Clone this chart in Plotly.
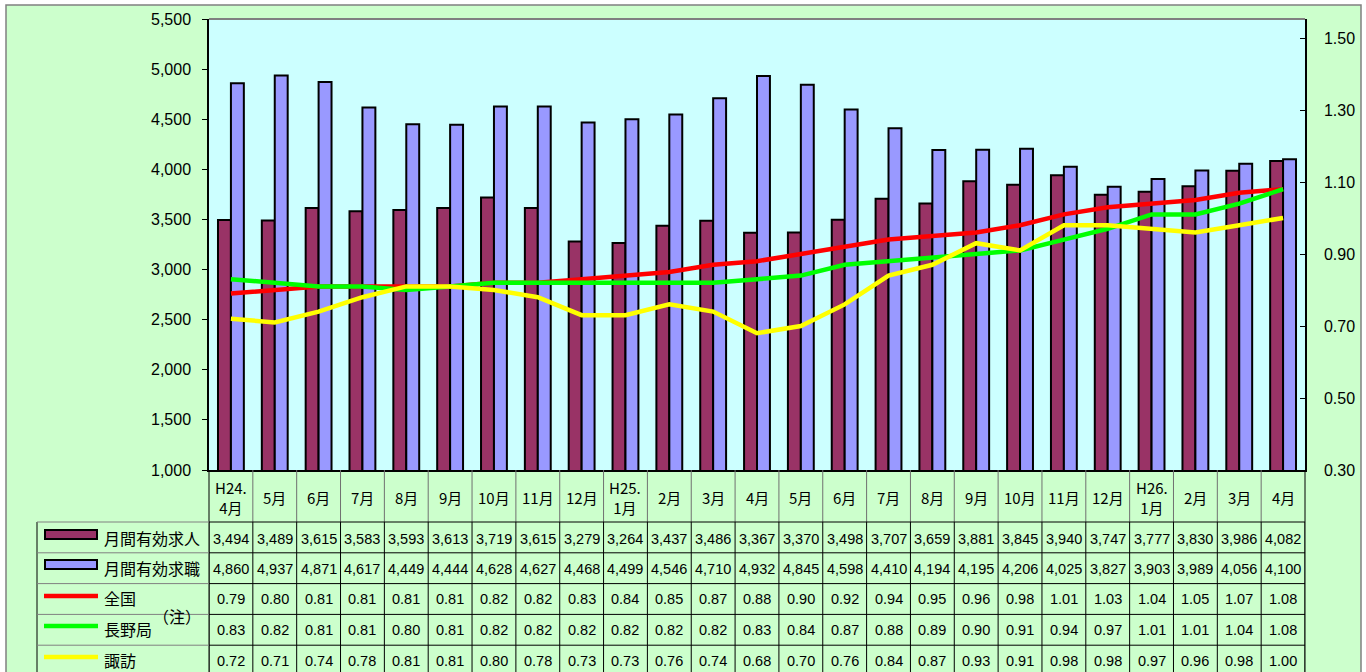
import plotly.graph_objects as go

categories = ["H24.<br>4月", "5月", "6月", "7月", "8月", "9月", "10月", "11月", "12月",
              "H25.<br>1月", "2月", "3月", "4月", "5月", "6月", "7月", "8月", "9月", "10月",
              "11月", "12月", "H26.<br>1月", "2月", "3月", "4月"]
kyujin = [3494, 3489, 3615, 3583, 3593, 3613, 3719, 3615, 3279, 3264, 3437, 3486, 3367,
          3370, 3498, 3707, 3659, 3881, 3845, 3940, 3747, 3777, 3830, 3986, 4082]
kyushoku = [4860, 4937, 4871, 4617, 4449, 4444, 4628, 4627, 4468, 4499, 4546, 4710, 4932,
            4845, 4598, 4410, 4194, 4195, 4206, 4025, 3827, 3903, 3989, 4056, 4100]
zenkoku = [0.79, 0.80, 0.81, 0.81, 0.81, 0.81, 0.82, 0.82, 0.83, 0.84, 0.85, 0.87, 0.88,
           0.90, 0.92, 0.94, 0.95, 0.96, 0.98, 1.01, 1.03, 1.04, 1.05, 1.07, 1.08]
nagano = [0.83, 0.82, 0.81, 0.81, 0.80, 0.81, 0.82, 0.82, 0.82, 0.82, 0.82, 0.82, 0.83,
          0.84, 0.87, 0.88, 0.89, 0.90, 0.91, 0.94, 0.97, 1.01, 1.01, 1.04, 1.08]
suwa = [0.72, 0.71, 0.74, 0.78, 0.81, 0.81, 0.80, 0.78, 0.73, 0.73, 0.76, 0.74, 0.68,
        0.70, 0.76, 0.84, 0.87, 0.93, 0.91, 0.98, 0.98, 0.97, 0.96, 0.98, 1.00]

series_names = ["月間有効求人", "月間有効求職", "全国", "長野局", "諏訪"]
left_ticks = [1000, 1500, 2000, 2500, 3000, 3500, 4000, 4500, 5000, 5500]
right_ticks = [0.30, 0.50, 0.70, 0.90, 1.10, 1.30, 1.50]

MAROON = "#993366"
LAVENDER = "#9999FF"
RED = "#FF0000"
GREEN = "#00FF00"
YELLOW = "#FFFF00"
CHART_BG = "#CCFFCC"
PLOT_BG = "#CCFFFF"

W, H = 1366, 672
L, R, T, B = 209, 1305, 19, 470
PW, PH = R - L, B - T


def px(x):
    return (x - L) / PW


def py(y):
    return (B - y) / PH


JP = "Noto Sans CJK JP, sans-serif"
NUM = "Arial, Liberation Sans, sans-serif"

n = len(categories)
xs = list(range(n))

fig = go.Figure()
fig.add_trace(go.Bar(x=xs, y=kyujin, name=series_names[0], marker=dict(color=MAROON, line=dict(color="black", width=2))))
fig.add_trace(go.Bar(x=xs, y=kyushoku, name=series_names[1], marker=dict(color=LAVENDER, line=dict(color="black", width=2))))
for vals, col, nm in [(zenkoku, RED, series_names[2]), (nagano, GREEN, series_names[3]), (suwa, YELLOW, series_names[4])]:
    fig.add_trace(go.Scatter(x=xs, y=vals, name=nm, mode="lines", yaxis="y2",
                             line=dict(color=col, width=4.5)))

shapes = []
# white strips outside the chart border
shapes.append(dict(type="rect", xref="paper", yref="paper", x0=px(0), x1=px(6), y0=py(H + 20), y1=py(-5),
                   fillcolor="white", line=dict(width=0)))
shapes.append(dict(type="rect", xref="paper", yref="paper", x0=px(0), x1=px(W), y0=py(5), y1=py(-5),
                   fillcolor="white", line=dict(width=0)))
shapes.append(dict(type="rect", xref="paper", yref="paper", x0=px(1361), x1=px(W + 5), y0=py(H + 20), y1=py(-5),
                   fillcolor="white", line=dict(width=0)))
# chart border
shapes.append(dict(type="rect", xref="paper", yref="paper", x0=px(6), x1=px(1361), y0=py(H + 20), y1=py(5),
                   line=dict(color="#808080", width=1.5)))
# top border of plot area
shapes.append(dict(type="line", xref="paper", yref="paper", x0=0, x1=1, y0=1, y1=1,
                   line=dict(color="#808080", width=2)))

row_lines = [522, 552.8, 583.6, 614.4, 645.2]
bottom = H + 20
# header row verticals
for i in range(1, n):
    shapes.append(dict(type="line", xref="x", yref="paper", x0=i - 0.5, x1=i - 0.5, y0=py(B), y1=py(522),
                       line=dict(color="#707070", width=1)))
# data verticals
for i in range(0, n + 1):
    shapes.append(dict(type="line", xref="x", yref="paper", x0=i - 0.5, x1=i - 0.5, y0=py(522), y1=py(bottom),
                       line=dict(color="black", width=1)))
for xx in (L, R):
    shapes.append(dict(type="line", xref="paper", yref="paper", x0=px(xx), x1=px(xx), y0=py(B), y1=py(bottom),
                       line=dict(color="black", width=1)))
shapes.append(dict(type="line", xref="paper", yref="paper", x0=px(37), x1=px(37), y0=py(522), y1=py(bottom),
                   line=dict(color="black", width=1)))
for yy in row_lines:
    shapes.append(dict(type="line", xref="paper", yref="paper", x0=px(37), x1=px(L), y0=py(yy), y1=py(yy),
                       line=dict(color="#808080", width=1)))
    shapes.append(dict(type="line", xref="paper", yref="paper", x0=0, x1=1, y0=py(yy), y1=py(yy),
                       line=dict(color="black", width=1)))

# legend keys
for (yc, col) in [(534.5, MAROON), (564.5, LAVENDER)]:
    shapes.append(dict(type="rect", xref="paper", yref="paper", x0=px(45), x1=px(97), y0=py(yc + 4.5), y1=py(yc - 4.5),
                       fillcolor=col, line=dict(color="black", width=2)))
for (yc, col) in [(596, RED), (626, GREEN), (657, YELLOW)]:
    shapes.append(dict(type="line", xref="paper", yref="paper", x0=px(44), x1=px(98), y0=py(yc), y1=py(yc),
                       line=dict(color=col, width=4.5)))

annotations = []
# header labels
for i, c in enumerate(categories):
    annotations.append(dict(x=i, y=py(497), xref="x", yref="paper", text=c, showarrow=False,
                            xanchor="center", yanchor="middle", font=dict(family=JP, size=15, color="black")))
row_centers = [538.5, 568.5, 599, 630, 660.5]
rows = [[f"{v:,}" for v in kyujin], [f"{v:,}" for v in kyushoku],
        [f"{v:.2f}" for v in zenkoku], [f"{v:.2f}" for v in nagano], [f"{v:.2f}" for v in suwa]]
for r, vals in enumerate(rows):
    for i, t in enumerate(vals):
        annotations.append(dict(x=i, y=py(row_centers[r]), xref="x", yref="paper", text=t, showarrow=False,
                                xanchor="center", yanchor="middle", font=dict(family=NUM, size=14.5, color="black")))
label_centers = [538, 567.5, 598, 629, 659.5]
for r, nm in enumerate(series_names):
    annotations.append(dict(x=px(102), y=py(label_centers[r]), xref="paper", yref="paper", text=nm, showarrow=False,
                            xanchor="left", yanchor="middle", font=dict(family=JP, size=16, color="black")))
annotations.append(dict(x=px(177), y=py(616), xref="paper", yref="paper", text="（注）", showarrow=False,
                        xanchor="center", yanchor="middle", font=dict(family=JP, size=16, color="black")))

fig.update_layout(
    width=W, height=H, autosize=False,
    margin=dict(l=L, r=W - R, t=T, b=H - B, pad=0),
    paper_bgcolor=CHART_BG, plot_bgcolor=PLOT_BG,
    barmode="group", bargap=0.41, bargroupgap=0,
    showlegend=False,
    xaxis=dict(range=[-0.5, n - 0.5], showticklabels=False, ticks="", showgrid=False, zeroline=False,
               showline=True, linecolor="black", linewidth=1.5, fixedrange=True),
    yaxis=dict(range=[1000, 5500], tickvals=left_ticks, tickformat=",", showgrid=False, zeroline=False,
               showline=True, linecolor="black", linewidth=1.5, ticks="outside", ticklen=5, tickcolor="black",
               tickwidth=1, ticklabelstandoff=8, tickfont=dict(family=NUM, size=16, color="black")),
    yaxis2=dict(range=[0.30, 1.5528], tickvals=right_ticks, tickformat=".2f", overlaying="y", side="right",
                showgrid=False, zeroline=False, showline=True, linecolor="black", linewidth=1.5,
                ticks="inside", ticklen=5, tickcolor="black", tickwidth=1, ticklabelstandoff=14,
                tickfont=dict(family=NUM, size=16, color="black")),
    shapes=shapes, annotations=annotations,
)

fig.write_html("out.html", config={"displayModeBar": False},
               post_script="document.body.style.margin='0';document.body.style.overflow='hidden';")
